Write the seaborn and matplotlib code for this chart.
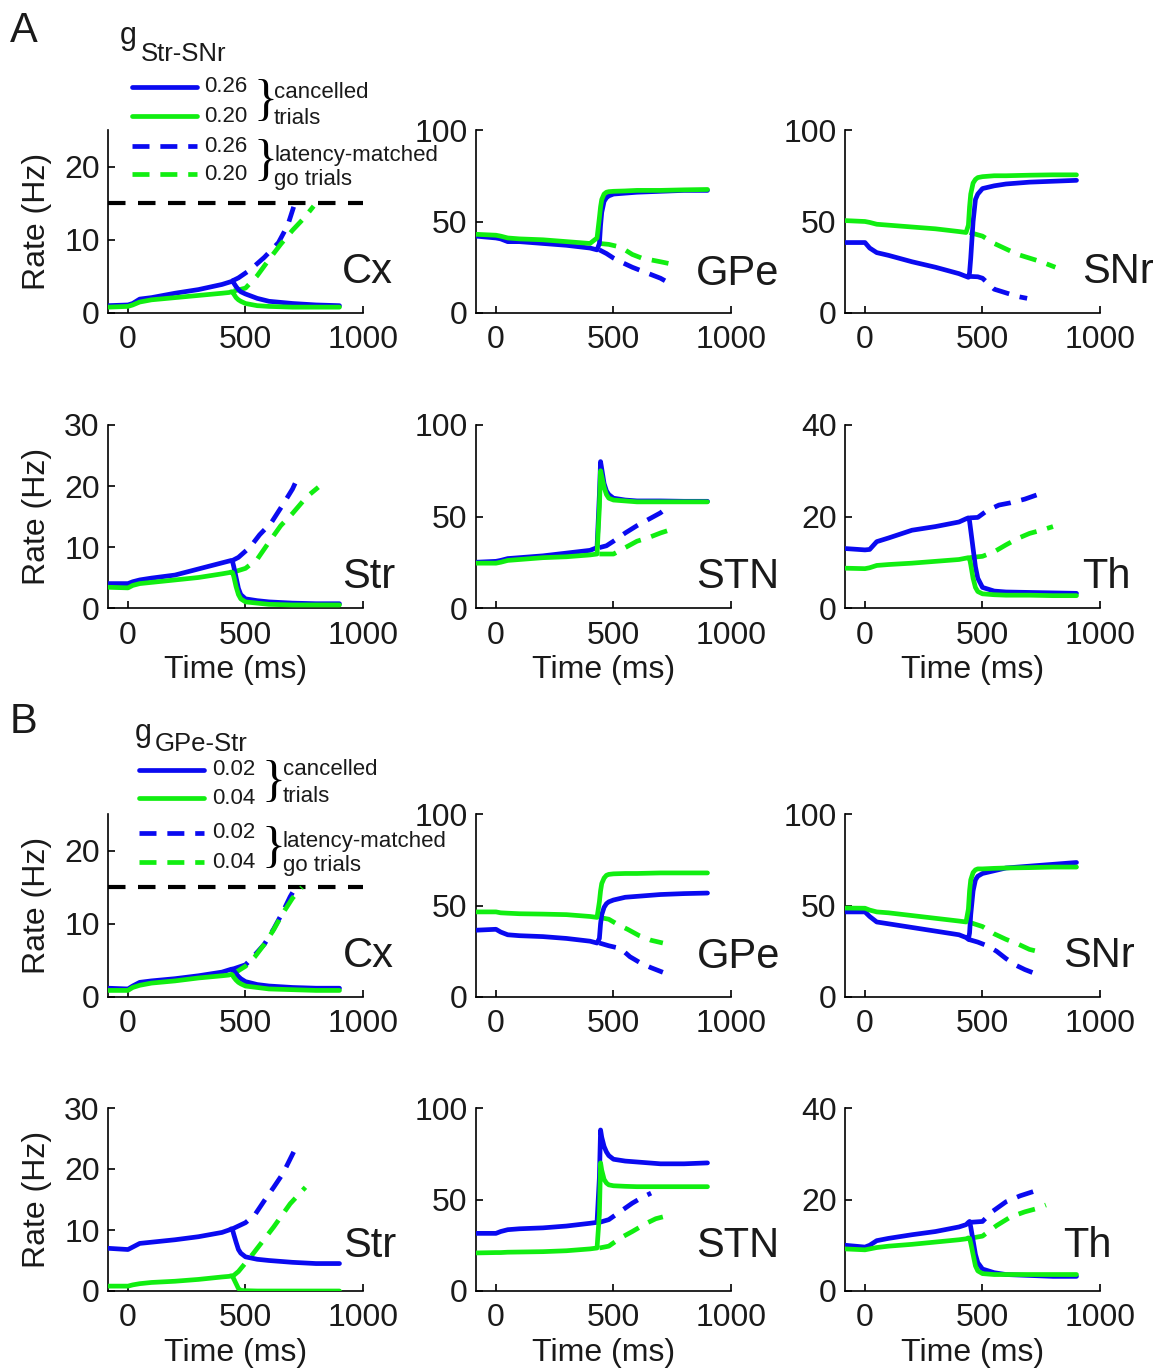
import numpy as np
import pandas as pd
import matplotlib
matplotlib.use("Agg")
import matplotlib.pyplot as plt
from matplotlib.lines import Line2D
import seaborn as sns

# ---------------- data ----------------
T_CAN = [-85, 0, 20, 50, 100, 200, 300, 400, 430, 440, 445, 450, 460, 470, 480, 500, 550, 600, 700, 800, 900]

# Panel A (g Str-SNr: 0.26 blue, 0.20 green), cancelled trials
A_CX_HI = [1.0, 1.1, 1.3, 1.9, 2.1, 2.7, 3.2, 3.9, 4.2, 4.3, 4.4, 4.1, 3.6, 3.2, 2.9, 2.6, 2.0, 1.6, 1.3, 1.1, 1.0]
A_CX_LO = [0.8, 0.9, 1.1, 1.5, 1.8, 2.1, 2.4, 2.7, 2.8, 2.9, 2.9, 2.6, 2.1, 1.8, 1.6, 1.3, 1.0, 0.9, 0.8, 0.8, 0.8]
A_GPE_HI = [42, 41, 40.5, 39, 39, 38, 37, 35.5, 34.5, 38, 48, 55, 61, 63, 64, 65, 65.5, 66, 66.5, 67, 67]
A_GPE_LO = [43, 42.5, 42, 41, 40.5, 40, 39, 38, 41, 52, 58, 62, 65, 66, 66.3, 66.5, 66.7, 67, 67, 67.3, 67.5]
A_SNR_HI = [38.5, 38.5, 35.5, 33, 31.5, 28, 25, 21.5, 20, 19.5, 22, 30, 50, 62, 65, 68, 69.5, 70.5, 71.5, 72, 72.5]
A_SNR_LO = [50.5, 50, 49.5, 48.5, 48, 47, 46, 44.5, 44, 48, 58, 65, 71, 73, 74, 74.5, 75, 75, 75.3, 75.5, 75.5]
A_STR_HI = [4.0, 4.0, 4.3, 4.6, 4.9, 5.4, 6.4, 7.4, 7.7, 7.8, 7.6, 6.8, 5.0, 3.2, 2.2, 1.5, 1.2, 1.0, 0.8, 0.7, 0.7]
A_STR_LO = [3.4, 3.3, 3.7, 4.0, 4.2, 4.6, 5.0, 5.6, 5.8, 5.9, 5.8, 5.2, 3.5, 2.2, 1.5, 1.0, 0.8, 0.6, 0.5, 0.5, 0.5]
A_STN_HI = [25, 25.5, 26, 27, 27.5, 28.5, 30, 31.5, 33, 62, 80, 76, 68, 64, 62, 60, 59, 58.5, 58.5, 58.3, 58.3]
A_STN_LO = [24.5, 24.5, 25, 26, 26.5, 27.5, 28, 29, 29.5, 55, 75, 72, 66, 62, 60, 59, 58.5, 58, 58, 58, 58]
A_TH_HI = [13, 12.7, 12.8, 14.5, 15.3, 17, 17.8, 18.8, 19.5, 19.7, 19, 17, 13, 9, 6.5, 4.5, 3.7, 3.5, 3.4, 3.3, 3.2]
A_TH_LO = [8.7, 8.6, 8.8, 9.3, 9.5, 9.8, 10.2, 10.6, 10.9, 11, 10.8, 9.5, 6.5, 4.5, 3.6, 3.1, 2.9, 2.8, 2.8, 2.7, 2.7]

# Panel B (g GPe-Str: 0.02 blue, 0.04 green), cancelled trials
B_CX_HI = [1.2, 1.1, 1.5, 2.0, 2.2, 2.5, 2.9, 3.4, 3.7, 3.8, 3.8, 3.6, 3.2, 2.8, 2.5, 2.1, 1.7, 1.5, 1.3, 1.2, 1.2]
B_CX_LO = [0.9, 0.9, 1.3, 1.6, 1.9, 2.2, 2.6, 2.9, 3.0, 3.1, 3.0, 2.7, 2.3, 2.0, 1.8, 1.5, 1.3, 1.1, 1.0, 0.9, 0.9]
B_GPE_HI = [36.5, 37, 35.5, 34, 33.5, 33, 32, 30.5, 29.5, 32, 40, 45, 49, 51, 52, 53, 54.5, 55, 56, 56.5, 56.8]
B_GPE_LO = [46.5, 46.5, 46, 45.8, 45.5, 45.3, 45, 44, 43.5, 52, 58, 62, 65, 66.5, 67, 67.3, 67.5, 67.5, 67.8, 67.8, 67.8]
B_SNR_HI = [46.5, 46.5, 44, 41, 40, 38, 36, 34, 32.5, 31.5, 35, 45, 58, 64, 66, 67.5, 69, 70.5, 71.5, 72.5, 73.5]
B_SNR_LO = [48.6, 48.5, 47.5, 46.5, 46, 44.5, 43, 41.5, 41, 48, 58, 64, 68, 69.5, 70, 70, 70.3, 70.5, 70.7, 71, 71]
B_STR_HI = [7.0, 6.8, 7.2, 7.8, 8.0, 8.4, 8.9, 9.6, 10, 10.2, 10, 9.3, 8, 6.8, 6.2, 5.6, 5.2, 5.0, 4.7, 4.5, 4.5]
B_STR_LO = [0.8, 0.8, 1.0, 1.2, 1.4, 1.6, 1.9, 2.3, 2.4, 2.5, 2.4, 2.0, 1.2, 0.4, 0.1, 0.05, 0, 0, 0, 0, 0]
B_STN_HI = [31.5, 31.5, 32.5, 33.5, 34, 34.5, 35.5, 37, 37.5, 62, 88, 84, 79, 76, 74, 72, 71, 70.5, 69.5, 69.5, 70]
B_STN_LO = [20.8, 21, 21, 21.2, 21.3, 21.5, 22, 23, 23.5, 42, 70, 66, 61, 59, 58, 57.5, 57.2, 57, 57, 57, 57]
B_TH_HI = [10, 9.6, 10, 11, 11.5, 12.3, 13, 14, 14.5, 15, 15.2, 14, 11, 8, 6.2, 4.8, 4.0, 3.6, 3.4, 3.2, 3.2]
B_TH_LO = [9.2, 9.0, 9.2, 9.5, 9.8, 10.2, 10.7, 11.2, 11.4, 11.6, 11.5, 10.5, 8, 5.5, 4.4, 3.8, 3.6, 3.6, 3.6, 3.6, 3.6]

# latency-matched go trials (time, rate)
A_CX_GO_HI = ([445, 470, 520, 580, 640, 680, 705], [4.4, 4.8, 5.9, 7.6, 9.6, 12.0, 14.5])
A_CX_GO_LO = ([450, 500, 550, 600, 650, 700, 750, 790], [3.0, 3.4, 5.1, 7.3, 9.4, 11.3, 13.0, 14.6])
A_GPE_GO_HI = ([440, 470, 500, 530, 580, 620, 660, 700, 735], [34.5, 32.5, 30, 28, 25, 23, 21, 19, 16.5])
A_GPE_GO_LO = ([440, 480, 530, 580, 620, 660, 700, 756], [38, 37.5, 36, 32, 30, 29, 28, 26.5])
A_SNR_GO_HI = ([445, 480, 500, 550, 600, 650, 690], [20, 19.8, 19, 13, 11, 9, 8])
A_SNR_GO_LO = ([445, 500, 550, 600, 650, 700, 750, 810], [44, 42, 38, 35, 32, 30, 28, 25])
A_STR_GO_HI = ([445, 470, 520, 560, 610, 660, 700, 730], [7.8, 8.3, 10, 12, 14, 17, 19.5, 22])
A_STR_GO_LO = ([450, 500, 550, 600, 650, 700, 760, 810], [5.9, 6.5, 8, 10.8, 13.5, 15.5, 18.2, 19.8])
A_STN_GO_HI = ([440, 470, 500, 550, 600, 650, 700, 730], [33, 34, 36.5, 41, 45, 48.5, 52, 55])
A_STN_GO_LO = ([440, 500, 550, 600, 650, 700, 760], [29.5, 29.5, 33, 36.5, 38.5, 41, 43.5])
A_TH_GO_HI = ([445, 480, 520, 570, 620, 680, 730], [19.7, 19.8, 21.3, 22.5, 23, 23.8, 24.7])
A_TH_GO_LO = ([445, 500, 550, 600, 650, 700, 750, 800], [11, 11.3, 12.3, 13.8, 15.2, 16.3, 17, 17.8])
B_CX_GO_HI = ([445, 500, 530, 580, 620, 660, 690, 710], [3.8, 4.4, 5.4, 7.2, 9.3, 11.7, 13.7, 14.8])
B_CX_GO_LO = ([445, 500, 540, 580, 620, 660, 700, 740], [3.1, 4.2, 5.5, 7.2, 9.2, 11.5, 13.5, 15])
B_GPE_GO_HI = ([440, 480, 530, 570, 615, 660, 710], [29.5, 28, 26.5, 22, 18.6, 16, 13.5])
B_GPE_GO_LO = ([440, 480, 520, 560, 610, 660, 710], [43.5, 42.5, 39.5, 37, 33.5, 31, 29.5])
B_SNR_GO_HI = ([440, 480, 520, 560, 600, 640, 680, 720], [31.5, 30, 28, 25, 21, 17.5, 15, 13])
B_SNR_GO_LO = ([440, 500, 550, 600, 650, 700, 765], [41, 38.5, 34.5, 31.5, 29, 26, 24])
B_STR_GO_HI = ([445, 500, 540, 580, 620, 660, 705], [10.2, 11.2, 12.5, 14.8, 17, 19.3, 22.8])
B_STR_GO_LO = ([445, 470, 530, 580, 620, 690, 755], [2.4, 3.2, 6, 8.5, 10.5, 14.3, 17])
B_STN_GO_HI = ([440, 480, 530, 580, 620, 660], [37.5, 39, 43.5, 48, 51, 53.5])
B_STN_GO_LO = ([440, 480, 530, 580, 640, 680, 710], [23.5, 24.5, 29, 32.5, 37, 39.5, 40.5])
B_TH_GO_HI = ([445, 500, 540, 600, 660, 720], [15, 15.2, 17.3, 19.5, 20.8, 21.8])
B_TH_GO_LO = ([445, 500, 560, 620, 680, 730, 770], [11.5, 12, 14.3, 16.2, 17.3, 18, 18.8])

NUCLEI_ROW1 = ["Cx", "GPe", "SNr"]
NUCLEI_ROW2 = ["Str", "STN", "Th"]
YMAX = {"Cx": 25, "GPe": 100, "SNr": 100, "Str": 30, "STN": 100, "Th": 40}
YTICKS = {"Cx": [0, 10, 20], "GPe": [0, 50, 100], "SNr": [0, 50, 100],
          "Str": [0, 10, 20, 30], "STN": [0, 50, 100], "Th": [0, 20, 40]}
XTICKS = [0, 500, 1000]
XLIM = (-85, 1000)
THRESHOLD = 15

LEG_A = ("Str-SNr", ["0.26", "0.20"])
LEG_B = ("GPe-Str", ["0.02", "0.04"])

# ---------------- style ----------------
sns.set_theme(style="white")
plt.rcParams["font.family"] = ["Liberation Sans", "DejaVu Sans"]

BLUE = "#0a0af0"
GREEN = "#11ee11"
LW = 3.4
DASH = (0, (3.6, 2.3))
TXT = "#1a1a1a"

W, H = 1165, 1372
fig = plt.figure(figsize=(W / 100, H / 100), dpi=100)

COL_LEFT = [108, 476, 845]
ROW_TOP = [130, 425, 814, 1108]
AX_W, AX_H = 255, 183

LABEL_POS = {
    (0, 0): (0.918, 0.164), (0, 1): (0.863, 0.153), (0, 2): (0.929, 0.164),
    (1, 0): (0.918, 0.109), (1, 1): (0.863, 0.109), (1, 2): (0.929, 0.109),
    (2, 0): (0.922, 0.164), (2, 1): (0.867, 0.158), (2, 2): (0.855, 0.164),
    (3, 0): (0.922, 0.186), (3, 1): (0.863, 0.186), (3, 2): (0.855, 0.186),
}

g = globals()


def make_df(t, v):
    return pd.DataFrame({"t": t, "rate": v})


for r in range(4):
    panel = "A" if r < 2 else "B"
    names = NUCLEI_ROW1 if r % 2 == 0 else NUCLEI_ROW2
    for c, nuc in enumerate(names):
        ax = fig.add_axes([COL_LEFT[c] / W, 1 - (ROW_TOP[r] + AX_H) / H, AX_W / W, AX_H / H])
        key = f"{panel}_{nuc.upper()}"
        if nuc == "Cx":
            ax.axhline(THRESHOLD, color="black", lw=3.0, ls=(0, (4.2, 3.0)), zorder=1)
        # go trials (dashed)
        for suf, col in (("HI", BLUE), ("LO", GREEN)):
            tt, vv = g[f"{key}_GO_{suf}"]
            sns.lineplot(data=make_df(tt, vv), x="t", y="rate", ax=ax, color=col,
                         lw=LW, linestyle=DASH, zorder=2)
        # cancelled trials (solid)
        for suf, col in (("HI", BLUE), ("LO", GREEN)):
            sns.lineplot(data=make_df(T_CAN, g[f"{key}_{suf}"]), x="t", y="rate", ax=ax,
                         color=col, lw=LW, zorder=3)
        ax.set_xlim(*XLIM)
        ax.set_ylim(0, YMAX[nuc])
        ax.set_xticks(XTICKS)
        ax.set_yticks(YTICKS[nuc])
        sns.despine(ax=ax)
        for sp in ("left", "bottom"):
            ax.spines[sp].set_linewidth(1.2)
            ax.spines[sp].set_color("black")
        ax.tick_params(axis="both", direction="in", length=5, width=1.2,
                       bottom=True, left=True, labelsize=23, colors="black",
                       labelcolor=TXT)
        ax.tick_params(axis="x", pad=9)
        ax.tick_params(axis="y", pad=6)
        ax.set_xlabel("")
        ax.set_ylabel("")
        if c == 0:
            ax.set_ylabel("Rate (Hz)", fontsize=23, color=TXT)
            ax.yaxis.set_label_coords(-0.22, 0.5)
        if r % 2 == 1:
            ax.set_xlabel("Time (ms)", fontsize=23, color=TXT)
            ax.xaxis.set_label_coords(0.5, -0.255)
        lx, ly = LABEL_POS[(r, c)]
        ax.text(lx, ly, nuc, transform=ax.transAxes, fontsize=30, ha="left",
                va="baseline", color=TXT)


def fx(x):
    return x / W


def fy(y):
    return 1 - y / H


def draw_legend(letter, letter_base, g_x, g_base, sub_x, sub_base, sub, vals,
                lx0, lx1, ys, num_x, brace_x, brace_c, txt_x, txt_ys):
    fig.text(fx(10), fy(letter_base), letter, fontsize=30, va="baseline", color=TXT)
    fig.text(fx(g_x), fy(g_base), "g", fontsize=22, va="baseline", color=TXT)
    fig.text(fx(sub_x), fy(sub_base), sub, fontsize=18.5, va="baseline", color=TXT)
    styles = [(BLUE, "-"), (GREEN, "-"), (BLUE, DASH), (GREEN, DASH)]
    labels = [vals[0], vals[1], vals[0], vals[1]]
    for (col, ls), y, lab in zip(styles, ys, labels):
        fig.add_artist(Line2D([fx(lx0), fx(lx1)], [fy(y), fy(y)], color=col, lw=LW, ls=ls,
                              transform=fig.transFigure))
        fig.text(fx(num_x), fy(y), lab, fontsize=16, va="center", color=TXT)
    for bc in brace_c:
        fig.text(fx(brace_x), fy(bc), "}", fontsize=36, va="center", ha="left",
                 family="Liberation Serif", color="black")
    for t, y in zip(["cancelled", "trials", "latency-matched", "go trials"], txt_ys):
        fig.text(fx(txt_x), fy(y), t, fontsize=16, va="center", color=TXT)


draw_legend("A", 42, 120, 44, 141, 61, LEG_A[0], LEG_A[1],
            132, 197, [87, 116, 146, 174], 204, 254, [102, 162], 274, [92, 119, 155, 180])
draw_legend("B", 733, 135, 741, 155, 751, LEG_B[0], LEG_B[1],
            139, 204, [770, 798, 833, 862], 212, 261, [783, 849], 283, [770, 797, 841, 866])

fig.savefig("out.png", dpi=100)
